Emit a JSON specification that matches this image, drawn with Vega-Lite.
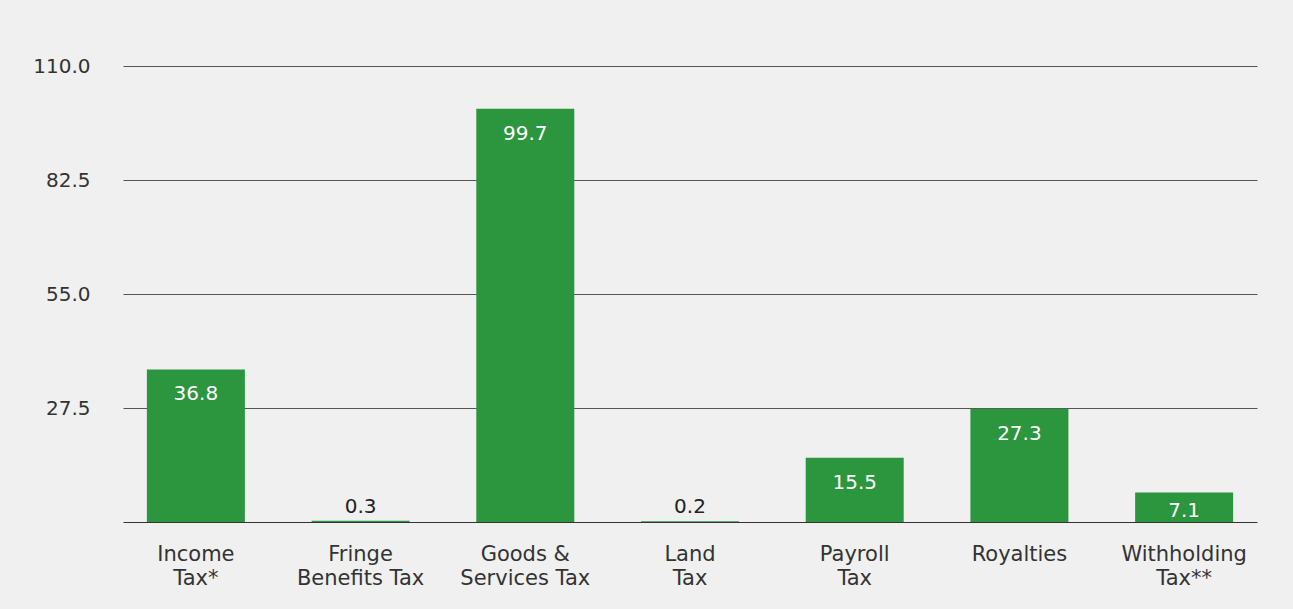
{
  "$schema": "https://vega.github.io/schema/vega-lite/v6.json",
  "autosize": "none",
  "width": 1134,
  "height": 456,
  "padding": {"left": 123, "top": 66, "right": 36, "bottom": 87},
  "background": "#eff0ef",
  "config": {
    "view": {"stroke": null},
    "font": "DejaVu Sans",
    "text": {"font": "DejaVu Sans"}
  },
  "data": {
    "values": [
      {"category": "Income|Tax*", "value": 36.8},
      {"category": "Fringe|Benefits Tax", "value": 0.3},
      {"category": "Goods &|Services Tax", "value": 99.7},
      {"category": "Land|Tax", "value": 0.2},
      {"category": "Payroll|Tax", "value": 15.5},
      {"category": "Royalties", "value": 27.3},
      {"category": "Withholding|Tax**", "value": 7.1}
    ]
  },
  "encoding": {
    "x": {
      "field": "category",
      "type": "nominal",
      "sort": null,
      "scale": {"paddingInner": 0.405, "paddingOuter": 0.145},
      "axis": {
        "title": null,
        "labelAngle": 0,
        "labelExpr": "split(datum.label, '|')",
        "labelFont": "DejaVu Sans",
        "labelFontSize": 21,
        "labelLineHeight": 24,
        "labelColor": "#333333",
        "labelPadding": 21,
        "ticks": false,
        "domainColor": "#333333",
        "domainWidth": 1.2
      }
    },
    "y": {
      "field": "value",
      "type": "quantitative",
      "scale": {"domain": [0, 110], "nice": false},
      "axis": {
        "title": null,
        "values": [27.5, 55, 82.5, 110],
        "format": ".1f",
        "labelFont": "DejaVu Sans",
        "labelFontSize": 20,
        "labelColor": "#333333",
        "labelPadding": 33,
        "ticks": false,
        "domain": false,
        "gridColor": "#555555",
        "gridWidth": 1
      }
    }
  },
  "layer": [
    {"mark": {"type": "bar", "color": "#2c963f"}},
    {
      "transform": [{"filter": "datum.value >= 10"}],
      "mark": {"type": "text", "color": "white", "fontSize": 20, "baseline": "middle", "dy": 25},
      "encoding": {"text": {"field": "value", "type": "quantitative", "format": ".1f"}}
    },
    {
      "transform": [{"filter": "datum.value >= 1 && datum.value < 10"}],
      "mark": {"type": "text", "color": "white", "fontSize": 20, "baseline": "middle", "dy": 18},
      "encoding": {"text": {"field": "value", "type": "quantitative", "format": ".1f"}}
    },
    {
      "transform": [{"filter": "datum.value < 1"}],
      "mark": {"type": "text", "color": "#222222", "fontSize": 20, "baseline": "middle", "dy": -14},
      "encoding": {"text": {"field": "value", "type": "quantitative", "format": ".1f"}}
    }
  ]
}
